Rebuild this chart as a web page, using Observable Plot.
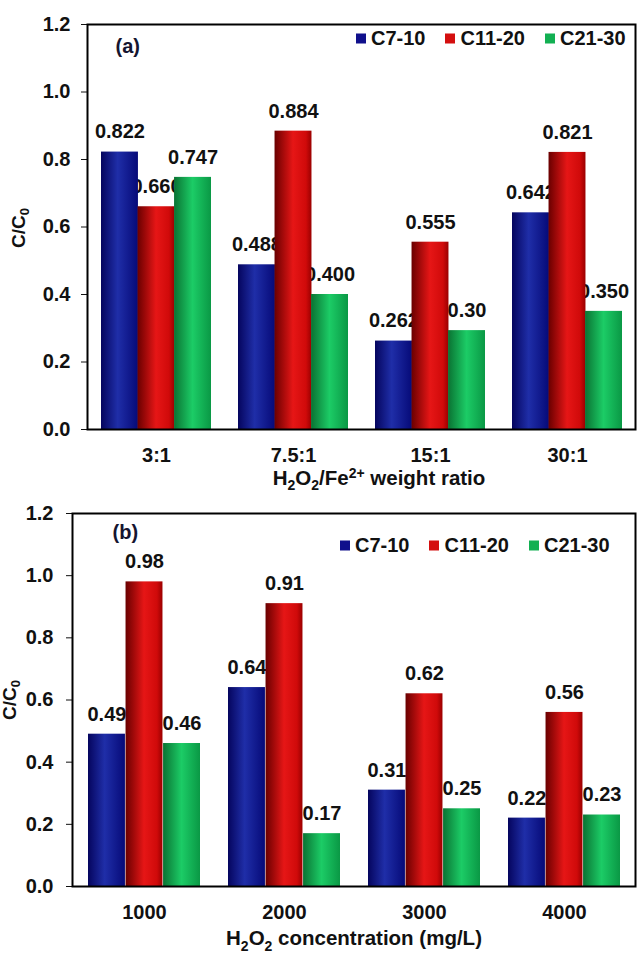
<!DOCTYPE html>
<html><head><meta charset="utf-8">
<script src="https://cdn.jsdelivr.net/npm/d3@7"></script>
<script src="https://cdn.jsdelivr.net/npm/@observablehq/plot@0.6"></script>
<style>
body{margin:0;background:#fff;font-family:"Liberation Sans",Arial,sans-serif;}
#root{position:relative;width:638px;height:956px;overflow:hidden;}
.panel{position:relative;width:638px;}
.panel svg{display:block;}
.legend{position:absolute;font-weight:bold;font-size:20px;display:flex;align-items:center;white-space:nowrap;transform:translateY(-50%);color:#111;}
.legend .it{display:flex;align-items:center;margin-right:20px;}
.legend .it:last-child{margin-right:0;}
.legend .sw{display:inline-block;width:10px;height:10px;margin-right:5px;}
.ttl{position:absolute;font-weight:bold;font-size:20.5px;white-space:nowrap;transform:translate(-50%,-50%);color:#111;}
.ttl sub,.ttl sup{font-size:14px;}
.ylab{position:absolute;font-weight:bold;font-size:19px;white-space:nowrap;transform:translate(-50%,-50%) rotate(-90deg);color:#111;}
.ylab sub{font-size:13px;}
</style>
</head><body>
<svg width="0" height="0" style="position:absolute">
  <defs>
    <linearGradient id="g0" x1="0" x2="1" y1="0" y2="0">
      <stop offset="0" stop-color="#05055e"/>
      <stop offset="0.45" stop-color="#1f2ea8"/>
      <stop offset="1" stop-color="#060a78"/>
    </linearGradient>
    <linearGradient id="g1" x1="0" x2="1" y1="0" y2="0">
      <stop offset="0" stop-color="#6a0000"/>
      <stop offset="0.5" stop-color="#e61616"/>
      <stop offset="0.85" stop-color="#d00a0a"/>
      <stop offset="1" stop-color="#9a0000"/>
    </linearGradient>
    <linearGradient id="g2" x1="0" x2="1" y1="0" y2="0">
      <stop offset="0" stop-color="#0a7333"/>
      <stop offset="0.5" stop-color="#1ccc66"/>
      <stop offset="1" stop-color="#0a9845"/>
    </linearGradient>
  </defs>
</svg>
<div id="root"></div>
<script>
// ---- data ----
const series = ["C7-10", "C11-20", "C21-30"];
const seriesColors = ["#10108c", "#d40f0f", "#12b052"];

const ratioCats = ["3:1", "7.5:1", "15:1", "30:1"];
const ratioC7 = [0.822, 0.488, 0.262, 0.642];
const ratioC11 = [0.660, 0.884, 0.555, 0.821];
const ratioC21 = [0.747, 0.400, 0.293, 0.350];
const ratioLabC7 = ["0.822", "0.488", "0.262", "0.642"];
const ratioLabC11 = ["0.660", "0.884", "0.555", "0.821"];
const ratioLabC21 = ["0.747", "0.400", "0.30", "0.350"];

const concCats = ["1000", "2000", "3000", "4000"];
const concC7 = [0.49, 0.64, 0.31, 0.22];
const concC11 = [0.98, 0.91, 0.62, 0.56];
const concC21 = [0.46, 0.17, 0.25, 0.23];
const concLabC7 = ["0.49", "0.64", "0.31", "0.22"];
const concLabC11 = ["0.98", "0.91", "0.62", "0.56"];
const concLabC21 = ["0.46", "0.17", "0.25", "0.23"];

const yTicks = [0, 0.2, 0.4, 0.6, 0.8, 1.0, 1.2];

function makePanel(cfg) {
  const {cats, vals, labs, height, mt, mb, ml, mr, tag, tagDx, tagDy, tickPadY} = cfg;
  const rows = [];
  series.forEach((s, i) => cats.forEach((c, j) =>
    rows.push({cat: c, series: s, si: i, value: vals[i][j], label: labs[i][j]})));
  const width = 638;
  const step = (width - ml - mr) / cats.length;
  const w = step * 0.8 / 3;
  const marks = [];
  series.forEach((s, i) => {
    const d = rows.filter(r => r.si === i);
    marks.push(Plot.text(d, {x: "cat", y: "value", text: "label", dx: (i - 1) * w, dy: -20,
      lineAnchor: "middle", fontSize: 20, fontWeight: "bold", fill: "#111"}));
  });
  series.forEach((s, i) => {
    const d = rows.filter(r => r.si === i);
    marks.push(Plot.barY(d, {x: "cat", y: "value", fill: `url(#g${i})`,
      insetLeft: i * w, insetRight: (2 - i) * w}));
  });
  marks.push(Plot.frame({stroke: "#000", strokeWidth: 2}));
  marks.push(Plot.text([tag], {frameAnchor: "top-left", text: d => d, dx: tagDx, dy: tagDy,
    textAnchor: "start", lineAnchor: "middle", fontSize: 20, fontWeight: "bold", fill: "#151530"}));
  return Plot.plot({
    width, height, marginTop: mt, marginBottom: mb, marginLeft: ml, marginRight: mr,
    x: {domain: cats, paddingInner: 0.2, paddingOuter: 0.1, label: null, tickSize: 0, tickPadding: 18},
    y: {domain: [0, 1.2], ticks: yTicks, tickFormat: d => d.toFixed(1), tickSize: 6, tickPadding: tickPadY, label: null},
    style: {fontFamily: "'Liberation Sans', Arial, sans-serif", fontSize: "20px", fontWeight: "bold", color: "#111", background: "#fff", overflow: "visible"},
    marks
  });
}

function legendHTML(left, top) {
  const el = document.createElement("div");
  el.className = "legend";
  el.style.left = left + "px";
  el.style.top = top + "px";
  series.forEach((s, i) => {
    const it = document.createElement("span");
    it.className = "it";
    it.innerHTML = `<span class="sw" style="background:${seriesColors[i]}"></span>${s}`;
    el.appendChild(it);
  });
  return el;
}

function addDiv(parent, cls, html, x, y) {
  const el = document.createElement("div");
  el.className = cls;
  el.innerHTML = html;
  el.style.left = x + "px";
  el.style.top = y + "px";
  parent.appendChild(el);
}

const root = document.getElementById("root");

// Panel (a)
const pa = document.createElement("div");
pa.className = "panel";
pa.appendChild(makePanel({cats: ratioCats, vals: [ratioC7, ratioC11, ratioC21], labs: [ratioLabC7, ratioLabC11, ratioLabC21],
  height: 490, mt: 24, mb: 61, ml: 87, mr: 3, tag: "(a)", tagDx: 28, tagDy: 22, tickPadY: 11}));
pa.appendChild(legendHTML(356, 38));
addDiv(pa, "ttl", "H<sub>2</sub>O<sub>2</sub>/Fe<sup>2+</sup> weight ratio", 379, 479);
addDiv(pa, "ylab", "C/C<sub>0</sub>", 20, 228);
root.appendChild(pa);

// Panel (b)
const pb = document.createElement("div");
pb.className = "panel";
pb.appendChild(makePanel({cats: concCats, vals: [concC7, concC11, concC21], labs: [concLabC7, concLabC11, concLabC21],
  height: 466, mt: 23, mb: 70, ml: 72, mr: 3, tag: "(b)", tagDx: 40, tagDy: 19, tickPadY: 13}));
pb.appendChild(legendHTML(340, 55));
addDiv(pb, "ttl", "H<sub>2</sub>O<sub>2</sub> concentration (mg/L)", 354, 450);
addDiv(pb, "ylab", "C/C<sub>0</sub>", 11, 210);
root.appendChild(pb);
</script>
</body></html>
